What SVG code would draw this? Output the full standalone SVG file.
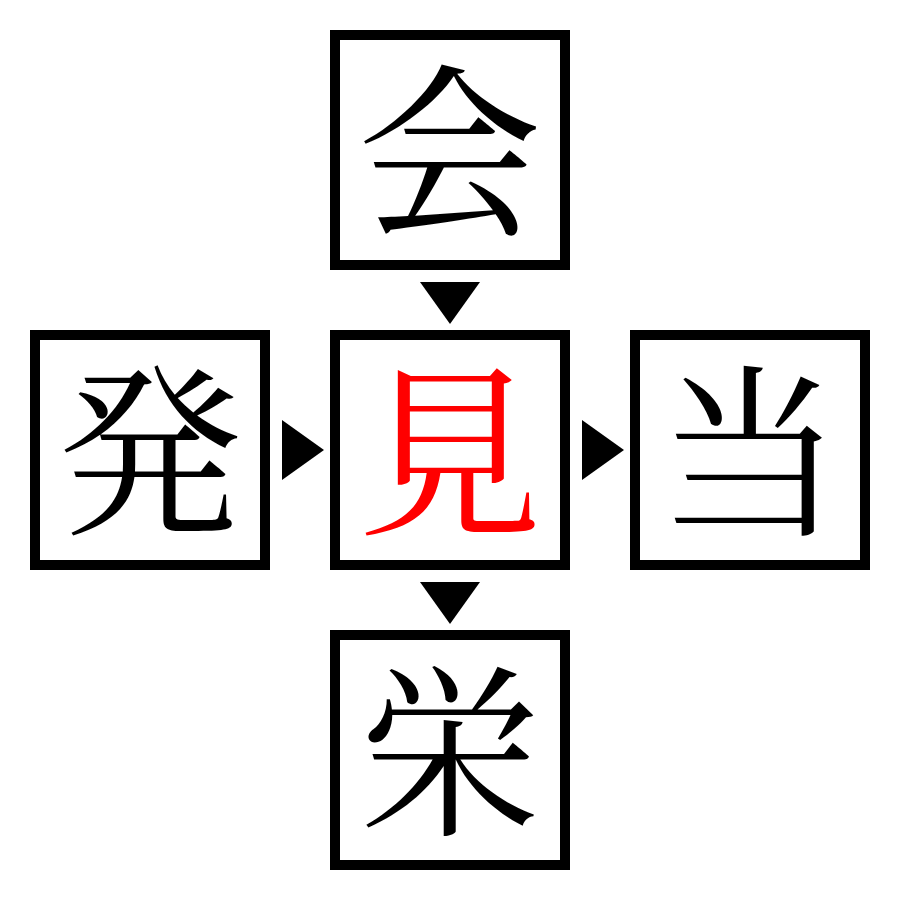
<svg xmlns="http://www.w3.org/2000/svg" width="900" height="900" viewBox="0 0 900 900">
<style>
.box{fill:#fff;stroke:#000;stroke-width:10}
.ch{font-family:"Noto Serif CJK JP","Noto Sans CJK JP",serif;font-size:185px;text-anchor:middle;dominant-baseline:central;fill:#000}
.red{fill:#ff0000}
.arr{fill:#000}
</style>
<rect width="900" height="900" fill="#fff"/>
<g id="connectors">
<polygon class="arr" points="420,282 480,282 450,324"/>
<polygon class="arr" points="420,582 480,582 450,624"/>
<polygon class="arr" points="282,420 282,480 324,450"/>
<polygon class="arr" points="582,420 582,480 624,450"/>
</g>
<g id="node-top"><rect class="box" x="335" y="35" width="230" height="230"/><text class="ch" x="450" y="141">会</text></g>
<g id="node-left"><rect class="box" x="35" y="335" width="230" height="230"/><text class="ch" x="150" y="441">発</text></g>
<g id="node-center"><rect class="box" x="335" y="335" width="230" height="230"/><text class="ch red" x="450" y="441">見</text></g>
<g id="node-right"><rect class="box" x="635" y="335" width="230" height="230"/><text class="ch" x="750" y="441">当</text></g>
<g id="node-bottom"><rect class="box" x="335" y="635" width="230" height="230"/><text class="ch" x="450" y="741">栄</text></g>
</svg>
